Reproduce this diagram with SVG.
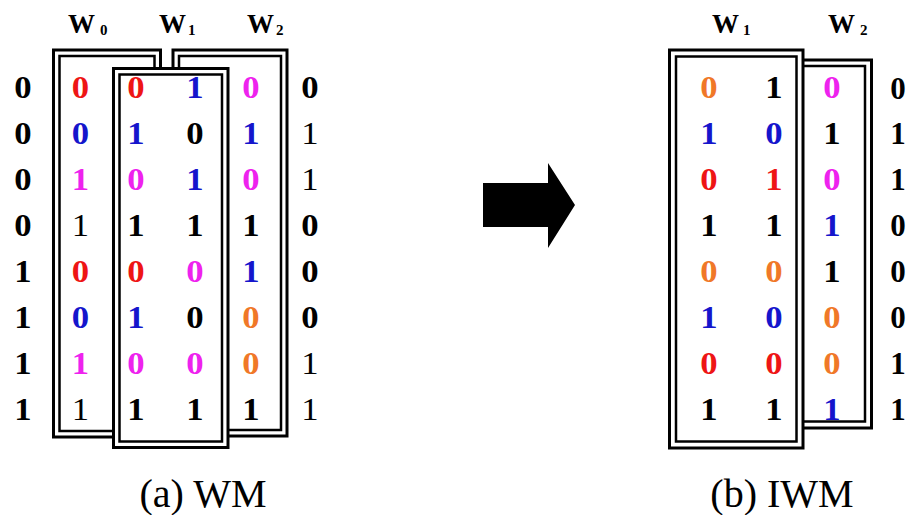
<svg xmlns="http://www.w3.org/2000/svg" width="907" height="515" viewBox="0 0 907 515">
  <style>
    .frame-o { fill: #ffffff; stroke: #000000; stroke-width: 3; }
    .frame-i { fill: none; stroke: #000000; stroke-width: 2.5; }
    .d { font-family: "Liberation Serif", "Times New Roman", serif; font-size: 31px; font-weight: bold; text-anchor: middle;
         transform: scaleX(1.12); transform-box: fill-box; transform-origin: center; }
    .edge { transform: none; }
    .n { font-weight: normal; }
    .k { fill: #000000; }
    .r { fill: #ee1515; }
    .b { fill: #1515cc; }
    .m { fill: #ee22ee; }
    .o { fill: #f07828; }
    .lbl { font-family: "Liberation Serif", "Times New Roman", serif; font-size: 27px; font-weight: bold; fill: #000000; }
    .sub { font-size: 15px; }
    .cap { font-family: "Liberation Serif", "Times New Roman", serif; font-size: 40px; fill: #000000; text-anchor: middle; }
  </style>

  <!-- (a) WM : window frames -->
  <g id="wm-w0">
    <rect class="frame-o" x="53.5" y="50" width="107" height="387"/>
    <rect class="frame-i" x="59.5" y="56" width="95" height="375"/>
  </g>
  <g id="wm-w2">
    <rect class="frame-o" x="173" y="50" width="114" height="386"/>
    <rect class="frame-i" x="179" y="56" width="102" height="374"/>
  </g>
  <g id="wm-w1">
    <rect class="frame-o" x="113.5" y="68.5" width="114.5" height="379"/>
    <rect class="frame-i" x="119.5" y="74.5" width="102.5" height="367"/>
  </g>

  <!-- (a) WM : labels -->
  <g id="wm-labels">
    <text class="lbl" x="68" y="33">W<tspan class="sub" x="100" y="35">0</tspan></text>
    <text class="lbl" x="159" y="33">W<tspan class="sub" x="188" y="35">1</tspan></text>
    <text class="lbl" x="247" y="33">W<tspan class="sub" x="276" y="35">2</tspan></text>
  </g>

  <!-- (a) WM : bit columns -->
  <g id="wm-col0">
    <text class="d k" x="23" y="98.5">0</text>
    <text class="d k" x="23" y="144.4">0</text>
    <text class="d k" x="23" y="190.3">0</text>
    <text class="d k" x="23" y="236.2">0</text>
    <text class="d k" x="23" y="282.1">1</text>
    <text class="d k" x="23" y="328">1</text>
    <text class="d k" x="23" y="373.9">1</text>
    <text class="d k" x="23" y="419.8">1</text>
  </g>
  <g id="wm-col1">
    <text class="d r" x="80.5" y="98.5">0</text>
    <text class="d b" x="80.5" y="144.4">0</text>
    <text class="d m" x="80.5" y="190.3">1</text>
    <text class="d k n" x="80.5" y="236.2">1</text>
    <text class="d r" x="80.5" y="282.1">0</text>
    <text class="d b" x="80.5" y="328">0</text>
    <text class="d m" x="80.5" y="373.9">1</text>
    <text class="d k n" x="80.5" y="419.8">1</text>
  </g>
  <g id="wm-col2">
    <text class="d r" x="136" y="98.5">0</text>
    <text class="d b" x="136" y="144.4">1</text>
    <text class="d m" x="136" y="190.3">0</text>
    <text class="d k" x="136" y="236.2">1</text>
    <text class="d r" x="136" y="282.1">0</text>
    <text class="d b" x="136" y="328">1</text>
    <text class="d m" x="136" y="373.9">0</text>
    <text class="d k" x="136" y="419.8">1</text>
  </g>
  <g id="wm-col3">
    <text class="d b" x="195" y="98.5">1</text>
    <text class="d k" x="195" y="144.4">0</text>
    <text class="d b" x="195" y="190.3">1</text>
    <text class="d k" x="195" y="236.2">1</text>
    <text class="d m" x="195" y="282.1">0</text>
    <text class="d k" x="195" y="328">0</text>
    <text class="d m" x="195" y="373.9">0</text>
    <text class="d k" x="195" y="419.8">1</text>
  </g>
  <g id="wm-col4">
    <text class="d m" x="251" y="98.5">0</text>
    <text class="d b" x="251" y="144.4">1</text>
    <text class="d m" x="251" y="190.3">0</text>
    <text class="d k" x="251" y="236.2">1</text>
    <text class="d b" x="251" y="282.1">1</text>
    <text class="d o" x="251" y="328">0</text>
    <text class="d o" x="251" y="373.9">0</text>
    <text class="d k" x="251" y="419.8">1</text>
  </g>
  <g id="wm-col5">
    <text class="d k" x="310" y="98.5">0</text>
    <text class="d k n" x="310" y="144.4">1</text>
    <text class="d k n" x="310" y="190.3">1</text>
    <text class="d k" x="310" y="236.2">0</text>
    <text class="d k" x="310" y="282.1">0</text>
    <text class="d k" x="310" y="328">0</text>
    <text class="d k n" x="310" y="373.9">1</text>
    <text class="d k n" x="310" y="419.8">1</text>
  </g>
  <text id="wm-caption" class="cap" x="203" y="507">(a) WM</text>

  <!-- block arrow between the two panels -->
  <g id="connectors">
    <polygon points="483,183 548,183 548,163 575,205 548,248 548,227 483,227" fill="#000000"/>
  </g>

  <!-- (b) IWM : window frames -->
  <g id="iwm-w2">
    <rect class="frame-o" x="760" y="60" width="111.5" height="368"/>
    <rect class="frame-i" x="766" y="66" width="99" height="355.5"/>
  </g>
  <g id="iwm-w1">
    <rect class="frame-o" x="669.5" y="50" width="133.5" height="398"/>
    <rect class="frame-i" x="676" y="56.5" width="120.5" height="385"/>
  </g>

  <!-- (b) IWM : labels -->
  <g id="iwm-labels">
    <text class="lbl" x="712" y="33">W<tspan class="sub" x="743" y="35">1</tspan></text>
    <text class="lbl" x="828" y="33">W<tspan class="sub" x="860" y="35">2</tspan></text>
  </g>

  <!-- (b) IWM : bit columns -->
  <g id="iwm-colA">
    <text class="d o" x="709" y="98.5">0</text>
    <text class="d b" x="709" y="144.4">1</text>
    <text class="d r" x="709" y="190.3">0</text>
    <text class="d k" x="709" y="236.2">1</text>
    <text class="d o" x="709" y="282.1">0</text>
    <text class="d b" x="709" y="328">1</text>
    <text class="d r" x="709" y="373.9">0</text>
    <text class="d k" x="709" y="419.8">1</text>
  </g>
  <g id="iwm-colB">
    <text class="d k" x="774" y="98.5">1</text>
    <text class="d b" x="774" y="144.4">0</text>
    <text class="d r" x="774" y="190.3">1</text>
    <text class="d k" x="774" y="236.2">1</text>
    <text class="d o" x="774" y="282.1">0</text>
    <text class="d b" x="774" y="328">0</text>
    <text class="d r" x="774" y="373.9">0</text>
    <text class="d k" x="774" y="419.8">1</text>
  </g>
  <g id="iwm-colC">
    <text class="d m" x="832" y="98.5">0</text>
    <text class="d k" x="832" y="144.4">1</text>
    <text class="d m" x="832" y="190.3">0</text>
    <text class="d b" x="832" y="236.2">1</text>
    <text class="d k" x="832" y="282.1">1</text>
    <text class="d o" x="832" y="328">0</text>
    <text class="d o" x="832" y="373.9">0</text>
    <text class="d b" x="832" y="419.8">1</text>
  </g>
  <g id="iwm-colD">
    <text class="d edge k" x="898" y="98.5">0</text>
    <text class="d edge k" x="898" y="144.4">1</text>
    <text class="d edge k" x="898" y="190.3">1</text>
    <text class="d edge k" x="898" y="236.2">0</text>
    <text class="d edge k" x="898" y="282.1">0</text>
    <text class="d edge k" x="898" y="328">0</text>
    <text class="d edge k" x="898" y="373.9">1</text>
    <text class="d edge k" x="898" y="419.8">1</text>
  </g>
  <text id="iwm-caption" class="cap" x="782" y="507">(b) IWM</text>
</svg>
